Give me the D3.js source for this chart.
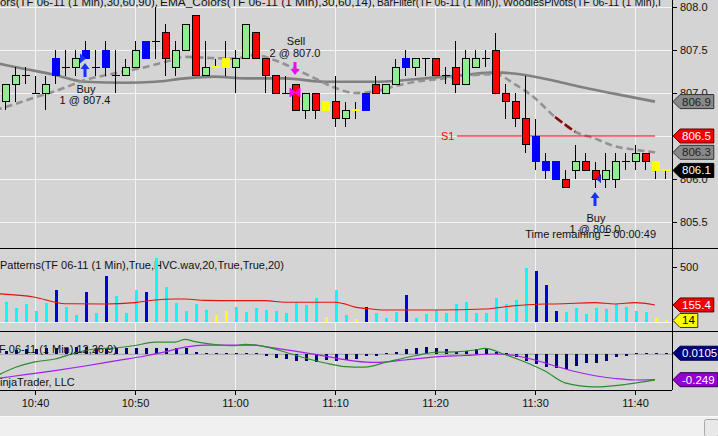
<!DOCTYPE html>
<html><head><meta charset="utf-8">
<script src="https://cdn.jsdelivr.net/npm/d3@7"></script>
<style>
body{margin:0;background:#f0f0f0;}
svg{display:block;font-family:"Liberation Sans",Arial,sans-serif;font-size:11px;}
</style>
</head><body>
<svg id="c" width="718" height="436"></svg>
<script>
// ---------------- DATA ----------------
const barTimes = ["10:37","10:38","10:39","10:40","10:41","10:42","10:43","10:44","10:45","10:46",
"10:47","10:48","10:49","10:50","10:51","10:52","10:53","10:54","10:55","10:56",
"10:57","10:58","10:59","11:00","11:01","11:02","11:03","11:04","11:05","11:06",
"11:07","11:08","11:09","11:10","11:11","11:12","11:13","11:14","11:15","11:16",
"11:17","11:18","11:19","11:20","11:21","11:22","11:23","11:24","11:25","11:26",
"11:27","11:28","11:29","11:30","11:31","11:32","11:33","11:34","11:35","11:36",
"11:37","11:38","11:39","11:40","11:41","11:42","11:43"];
const opens  = [806.9,807.1,807.2,807.0,807.0,807.4,807.3,807.3,807.5,807.3,
807.5,807.2,807.2,807.3,807.6,807.6,807.7,807.3,807.5,807.9,
807.2,807.3,807.4,807.3,807.4,807.7,807.4,807.2,807.0,807.1,
806.8,807.0,806.9,806.9,806.7,806.8,807.0,807.1,807.0,807.1,
807.4,807.3,807.4,807.4,807.2,807.3,807.1,807.3,807.4,807.5,
807.0,806.9,806.7,806.5,806.2,806.2,806.0,806.1,806.2,806.1,
806.0,806.0,806.2,806.2,806.3,806.2,806.1];
const highs  = [807.1,807.3,807.3,807.2,807.2,807.5,807.5,807.5,807.6,807.5,
807.6,807.5,807.4,807.6,807.6,808.0,807.8,807.6,807.8,807.9,
807.6,807.4,807.6,807.5,807.8,807.7,807.4,807.2,807.2,807.1,
807.0,807.0,806.9,807.2,806.9,806.9,807.0,807.2,807.1,807.4,
807.5,807.4,807.4,807.4,807.3,807.6,807.5,807.5,807.5,807.7,
807.1,807.0,807.2,806.7,806.3,806.2,806.1,806.4,806.3,806.2,
806.3,806.3,806.3,806.4,806.3,806.2,806.1];
const lows   = [806.8,806.9,807.1,807.0,806.8,807.1,807.2,807.2,807.4,807.2,
807.2,807.0,807.2,807.3,807.4,807.4,807.2,807.2,807.5,807.2,
807.2,807.3,807.2,807.0,807.4,807.4,807.0,807.0,807.0,806.8,
806.7,806.7,806.8,806.6,806.6,806.7,806.8,807.0,807.0,807.1,
807.2,807.2,807.2,807.2,807.1,807.0,807.1,807.3,807.3,807.0,
806.7,806.6,806.3,806.1,806.0,806.0,805.9,806.0,806.1,805.9,
805.9,805.9,806.1,806.1,806.1,806.0,806.0];
const closes = [807.1,807.2,807.2,807.0,807.1,807.2,807.3,807.4,807.4,807.3,
807.3,807.2,807.3,807.5,807.4,807.6,807.4,807.5,807.8,807.2,
807.3,807.3,807.3,807.4,807.8,807.4,807.2,807.0,807.0,806.8,
807.0,806.8,806.8,806.7,806.8,806.8,806.8,807.0,807.1,807.3,
807.3,807.4,807.4,807.2,807.2,807.1,807.4,807.4,807.4,807.0,
806.9,806.7,806.4,806.2,806.1,806.0,805.9,806.2,806.1,806.0,
806.1,806.2,806.2,806.3,806.2,806.1,806.1];
// g = up, r = down, d = doji, b = BarFilter blue, y = BarFilter yellow
const barTypes = ["g","g","d","d","g","b","d","g","b","d",
"b","d","g","g","b","d","r","g","g","r",
"g","y","y","g","g","r","r","r","d","r",
"g","r","y","r","g","y","b","r","g","g",
"b","g","d","r","d","r","g","g","d","r",
"r","r","r","b","b","b","r","g","r","r",
"g","g","d","g","r","y","y"];
const volumes = [185,124,161,100,170,291,139,64,276,79,
418,236,79,291,276,579,315,176,103,164,
109,64,100,133,94,124,109,100,79,185,
155,221,48,291,64,27,139,85,33,94,
245,39,73,109,79,164,185,79,79,221,
164,200,494,467,336,100,94,130,73,130,
115,164,139,103,88,33,14];
const volAvgTimes  = ["10:36","10:40","10:42","10:43","10:47","10:50","10:52","10:54","10:55","10:57",
"11:00","11:03","11:05","11:10","11:11","11:12","11:13","11:15","11:20","11:25",
"11:27","11:29","11:31","11:32","11:36","11:38","11:40","11:42"];
const volAvgValues = [258,225,180,166,164,176,200,209,209,197,
194,194,180,179,164,135,124,109,109,118,
139,155,164,164,176,164,176,155];
const emaSlowTimes  = ["10:36","10:39","10:42","10:45","10:49","10:52","10:55","10:58","11:01","11:05",
"11:09","11:13","11:16","11:19","11:23","11:26","11:29","11:32","11:35","11:38","11:42"];
const emaSlowValues = [807.35,807.28,807.21,807.13,807.12,807.13,807.17,807.19,807.17,807.17,
807.13,807.13,807.14,807.17,807.21,807.24,807.21,807.14,807.06,806.99,806.90];
const emaFastTimes  = ["10:36","10:38","10:40","10:42","10:45","10:48","10:51","10:53","10:55","10:57",
"11:00","11:02","11:04","11:06","11:08","11:10","11:12","11:14","11:16","11:18",
"11:21","11:24","11:26","11:28","11:30","11:32","11:34","11:36","11:38","11:40","11:42"];
const emaFastValues = [806.80,806.87,806.95,807.02,807.15,807.23,807.30,807.36,807.42,807.41,
807.40,807.44,807.38,807.28,807.17,807.06,807.00,807.02,807.08,807.13,
807.17,807.21,807.22,807.10,806.94,806.72,806.55,806.47,806.38,806.34,806.31];
const emaFastFalling = ["11:32","11:34"];
const macdTimes  = ["10:36","10:38","10:40","10:42","10:44","10:46","10:48","10:50","10:52","10:54",
"10:55","10:56","10:58","11:00","11:01","11:03","11:05","11:07","11:09","11:11",
"11:13","11:15","11:18","11:20","11:22","11:24","11:25","11:27","11:29","11:31",
"11:33","11:36","11:39","11:41","11:42"];
const macdValues = [-0.22,-0.13,-0.075,-0.046,0.013,0.052,0.062,0.086,0.12,0.12,
0.147,0.124,0.096,0.084,0.098,0.076,0.023,-0.036,-0.085,-0.12,
-0.125,-0.08,-0.014,0.02,0.023,0.042,0.059,-0.002,-0.075,-0.164,
-0.28,-0.32,-0.296,-0.267,-0.252];
const signalTimes  = ["10:36","10:39","10:42","10:45","10:48","10:51","10:53","10:55","10:57","11:00",
"11:02","11:03","11:06","11:09","11:12","11:14","11:17","11:20","11:23","11:26",
"11:28","11:30","11:32","11:34","11:36","11:38","11:40","11:42"];
const signalValues = [-0.24,-0.2,-0.16,-0.115,-0.065,-0.017,0.023,0.07,0.09,0.09,
0.09,0.076,0.032,-0.017,-0.066,-0.08,-0.056,-0.026,-0.012,0.003,
-0.012,-0.056,-0.115,-0.169,-0.21,-0.237,-0.252,-0.249];
const histValues = [0.03,0.04,0.05,0.055,0.06,0.06,0.065,0.07,0.07,0.065,
0.06,0.06,0.06,0.065,0.065,0.065,0.06,0.06,0.06,0.02,
0.004,0.01,0.005,0.005,0.01,0.0,-0.02,-0.035,-0.05,-0.065,
-0.065,-0.072,-0.056,-0.062,-0.056,-0.049,-0.015,-0.012,0.0,0.025,
0.049,0.059,0.069,0.059,0.049,0.025,0.035,0.049,0.059,0.025,
0.008,-0.029,-0.066,-0.098,-0.122,-0.137,-0.144,-0.112,-0.088,-0.082,
-0.063,-0.029,-0.014,0.0,0.008,0.01,0.0105];
const priceTicks = [805.5,806.0,806.5,807.0,807.5,808.0];
const volTicks = [500];
const pivotS1 = 806.5;
const executions = [
  {time:"10:45", side:"Buy",  qty:1, price:807.4},
  {time:"11:06", side:"Sell", qty:2, price:807.0},
  {time:"11:36", side:"Buy",  qty:1, price:806.0}
];
const timeRemaining = "00:00:49";
const priceTitleParts = ["ors(TF 06-11 (1 Min),30,60,90), ", "EMA_Colors(TF 06-11 (1 Min),30,60,14), ", "BarFilter(TF 06-11 (1 Min)), ", "WoodiesPivots(TF 06-11 (1 Min),I"];
const volTitle = "Patterns(TF 06-11 (1 Min),True,HVC.wav,20,True,True,20)";
const macdTitle = "F 06-11 (1 Min),12,26,9)";
const copyright = "injaTrader, LLC";

// ---------------- SETUP ----------------
const T = s => d3.timeParse("%H:%M:%S")(s.length === 5 ? s + ":00" : s);
const W = 718, H = 436, PR = 672;
const P = {top:0, pBot:248, vBot:331, mBot:390};
const svg = d3.select("#c");
const x = d3.scaleTime().domain([T("10:36:30"), T("11:43:42")]).range([0, PR]);
const yP = d3.scaleLinear().domain([805.5, 808.0]).range([222, 7]);
const yV = d3.scaleLinear().domain([0, 500]).range([322, 267]);
const yM = d3.scaleLinear().domain([-0.25, 0.05]).range([379.8, 349.2]);
const BG = "#d4d4d4";

svg.append("rect").attr("width", W).attr("height", H).attr("fill", "#f0f0f0");
svg.append("rect").attr("width", W).attr("height", 417).attr("fill", BG);

const defs = svg.append("defs");
[["cp",0,P.pBot],["cv",P.pBot,P.vBot],["cm",P.vBot,P.mBot]].forEach(([id,a,b]) =>
  defs.append("clipPath").attr("id", id).append("rect").attr("x",0).attr("y",a).attr("width",PR).attr("height",b-a));

// grid
const xTicks = x.ticks(d3.timeMinute.every(10));
const grid = svg.append("g").attr("stroke", "#f4f4f4").attr("stroke-width", 1).attr("shape-rendering","crispEdges");
xTicks.forEach(t => grid.append("line").attr("x1", x(t)+0.5).attr("x2", x(t)+0.5).attr("y1", 0).attr("y2", P.mBot));
priceTicks.forEach(v => grid.append("line").attr("x1", 0).attr("x2", PR).attr("y1", Math.round(yP(v))+0.5).attr("y2", Math.round(yP(v))+0.5));
grid.append("line").attr("x1",0).attr("x2",PR).attr("y1", yV(0)+0.5).attr("y2", yV(0)+0.5);

// ---------------- PRICE PANEL ----------------
const gp = svg.append("g").attr("clip-path", "url(#cp)");
const titleX = [0, 160, 377, 503], titleW = [158, 215, 124, 158];
priceTitleParts.forEach((s,i) => gp.append("text").attr("x", titleX[i]).attr("y", 6).attr("fill", "#111")
  .attr("textLength", titleW[i]).attr("lengthAdjust", "spacingAndGlyphs").text(s));

const line = (ys) => d3.line().x(d => x(T(d[0]))).y(d => ys(d[1])).curve(d3.curveMonotoneX);
const slowPts = emaSlowTimes.map((t,i) => [t, emaSlowValues[i]]);
const fastPts = emaFastTimes.map((t,i) => [t, emaFastValues[i]]);
gp.append("path").attr("d", line(yP)(slowPts)).attr("fill","none").attr("stroke","#808080").attr("stroke-width",2.6);
gp.append("path").attr("d", line(yP)(fastPts)).attr("fill","none").attr("stroke","#929292").attr("stroke-width",2.6).attr("stroke-dasharray","7,4");
const fallPts = fastPts.filter(p => T(p[0]) >= T(emaFastFalling[0]) && T(p[0]) <= T(emaFastFalling[1]));
gp.append("path").attr("d", line(yP)(fallPts)).attr("fill","none").attr("stroke","#8b0000").attr("stroke-width",2.4).attr("stroke-dasharray","9,3");

// S1 pivot
gp.append("line").attr("x1", 457).attr("x2", 655).attr("y1", yP(pivotS1)).attr("y2", yP(pivotS1)).attr("stroke", "#ff0000").attr("stroke-width", 1);
gp.append("text").attr("x", 441).attr("y", yP(pivotS1)+4).attr("fill", "#ff0000").text("S1");

// candles
const fills = {g:"#90ee90", r:"#ff0000", b:"#0000ff", y:"#ffff00", d:"#000"};
const strokes = {g:"#000", r:"#000", b:"#0000ff", y:"#ffff00", d:"#000"};
const cg = gp.append("g").attr("shape-rendering","crispEdges");
barTimes.forEach((t,i) => {
  const cx = Math.round(x(T(t)));
  cg.append("line").attr("x1", cx+0.5).attr("x2", cx+0.5).attr("y1", yP(highs[i])).attr("y2", yP(lows[i])).attr("stroke", "#000");
  const k = barTypes[i];
  const yo = yP(opens[i]), yc = yP(closes[i]);
  if (opens[i] === closes[i]) {
    cg.append("rect").attr("x", cx-3).attr("y", yo - (k==="d"?0.5:1)).attr("width", 8).attr("height", k==="d"?1:2).attr("fill", fills[k]);
  } else {
    cg.append("rect").attr("x", cx-3).attr("y", Math.min(yo,yc)).attr("width", 7).attr("height", Math.abs(yo-yc))
      .attr("fill", fills[k]).attr("stroke", strokes[k]).attr("stroke-width", 1);
  }
});

// executions
executions.forEach(e => {
  const i = barTimes.indexOf(e.time);
  const cx = x(T(e.time));
  const ye = yP(e.price);
  if (e.side === "Buy") {
    const col = "#1432ff";
    const yl = yP(lows[i]);
    const tip = yl + 4.5, tail = tip + 14;
    gp.append("path").attr("d", `M${cx},${tip}L${cx+4.5},${tip+6}L${cx+1.5},${tip+6}L${cx+1.5},${tail}L${cx-1.5},${tail}L${cx-1.5},${tip+6}L${cx-4.5},${tip+6}Z`).attr("fill", col);
    if (i < 20) gp.append("path").attr("d", `M${cx-5},${ye-5}L${cx+1},${ye}L${cx-5},${ye+5}Z`).attr("fill", col);
    else gp.append("path").attr("d", `M${cx+6},${ye-5}L${cx+1},${ye}L${cx+6},${ye+4}Z`).attr("fill", "#1a2dcc");
    gp.append("text").attr("x", cx+1).attr("y", yl+34).attr("text-anchor","middle").attr("fill","#111").text(e.side);
    gp.append("text").attr("x", cx).attr("y", yl+45.5).attr("text-anchor","middle").attr("fill","#111").text(`${e.qty} @ ${e.price.toFixed(1)}`);
  } else {
    const col = "#ff00ff";
    const yh = yP(highs[i]);
    const tip = yh - 9.5, tail = tip - 13;
    gp.append("path").attr("d", `M${cx},${tip}L${cx+4.5},${tip-6}L${cx+1.5},${tip-6}L${cx+1.5},${tail}L${cx-1.5},${tail}L${cx-1.5},${tip-6}L${cx-4.5},${tip-6}Z`).attr("fill", col);
    gp.append("path").attr("d", `M${cx-5},${ye-5}L${cx+5},${ye+4}L${cx+5},${ye-5}L${cx-5},${ye+4}Z`).attr("fill", col).attr("stroke", col);
    gp.append("text").attr("x", cx+1).attr("y", yh-39).attr("text-anchor","middle").attr("fill","#111").text(e.side);
    gp.append("text").attr("x", cx).attr("y", yh-27.5).attr("text-anchor","middle").attr("fill","#111").text(`${e.qty} @ ${e.price.toFixed(1)}`);
  }
});
gp.append("text").attr("x", 656).attr("y", 238).attr("text-anchor","end").attr("fill","#111").text("Time remaining = " + timeRemaining);

// ---------------- VOLUME PANEL ----------------
const gv = svg.append("g").attr("clip-path", "url(#cv)");
gv.append("text").attr("x", 0).attr("y", 269).attr("fill", "#111").text(volTitle);
const volCol = {b:"#0000dd", y:"#ffff00"};
gv.append("g").attr("shape-rendering","crispEdges").selectAll("rect").data(volumes).join("rect")
  .attr("x", (d,i) => Math.round(x(T(barTimes[i]))) - 0.5).attr("width", 3)
  .attr("y", d => yV(d)).attr("height", d => yV(0) - yV(d))
  .attr("fill", (d,i) => volCol[barTypes[i]] || "#00ffff");
const avgPts = volAvgTimes.map((t,i) => [t, volAvgValues[i]]);
gv.append("path").attr("d", line(yV)(avgPts)).attr("fill","none").attr("stroke","#e41010").attr("stroke-width",1.1);

// ---------------- MACD PANEL ----------------
const gm = svg.append("g").attr("clip-path", "url(#cm)");
gm.append("line").attr("x1",0).attr("x2",PR).attr("y1", yM(0)).attr("y2", yM(0)).attr("stroke","#a0a0a0");
gm.append("g").attr("shape-rendering","crispEdges").selectAll("rect").data(histValues).join("rect")
  .attr("x", (d,i) => Math.round(x(T(barTimes[i]))) - 0.5).attr("width", 3)
  .attr("y", d => Math.min(yM(d), yM(0) - (d >= 0 ? 1.5 : 0)))
  .attr("height", d => Math.max(Math.abs(yM(d) - yM(0)), 1.5))
  .attr("fill", "#000080");
const macdPts = macdTimes.map((t,i) => [t, macdValues[i]]);
const sigPts = signalTimes.map((t,i) => [t, signalValues[i]]);
gm.append("path").attr("d", line(yM)(sigPts)).attr("fill","none").attr("stroke","#a020f0").attr("stroke-width",1.2);
gm.append("path").attr("d", line(yM)(macdPts)).attr("fill","none").attr("stroke","#2e8b2e").attr("stroke-width",1.2);
gm.append("text").attr("x", -1).attr("y", 353).attr("fill", "#111").text(macdTitle);
gm.append("text").attr("x", 0).attr("y", 386).attr("fill", "#111").text(copyright);

// ---------------- FRAMES & AXES ----------------
const fr = svg.append("g").attr("stroke","#000").attr("shape-rendering","crispEdges");
fr.append("line").attr("x1",0).attr("x2",W).attr("y1",P.pBot+0.5).attr("y2",P.pBot+0.5);
fr.append("line").attr("x1",0).attr("x2",W).attr("y1",P.vBot+0.5).attr("y2",P.vBot+0.5);
fr.append("line").attr("x1",0).attr("x2",PR).attr("y1",P.mBot+0.5).attr("y2",P.mBot+0.5);
fr.append("line").attr("x1",PR+0.5).attr("x2",PR+0.5).attr("y1",0).attr("y2",P.mBot);

const ax = (sel) => { sel.select(".domain").remove(); sel.selectAll("text").attr("fill","#111").style("font-size","11px").style("font-family","'Liberation Sans',Arial,sans-serif"); sel.selectAll("line").attr("stroke","#000"); };
svg.append("g").attr("transform", `translate(${PR},0)`).call(d3.axisRight(yP).tickValues(priceTicks).tickFormat(d3.format(".1f")).tickSize(5).tickPadding(3)).call(ax);
svg.append("g").attr("transform", `translate(${PR},0)`).call(d3.axisRight(yV).tickValues(volTicks).tickSize(5).tickPadding(3)).call(ax);
svg.append("g").attr("transform", `translate(0,${P.mBot})`).call(d3.axisBottom(x).ticks(d3.timeMinute.every(10)).tickFormat(d3.timeFormat("%H:%M")).tickSize(5).tickPadding(4)).call(ax);

// value tags
function tag(yc, label, fill, color, stroke) {
  const g = svg.append("g");
  const p = g.append("path");
  const t = g.append("text").attr("x", 682).attr("y", yc + 4).attr("fill", color).style("font-size","11.5px").text(label);
  const w = t.node().getComputedTextLength();
  const h = 7, x2 = 682 + w + 3;
  p.attr("d", `M${PR+1},${yc}L${PR+8},${yc-h}L${x2},${yc-h}L${x2},${yc+h}L${PR+8},${yc+h}Z`)
   .attr("fill", fill).attr("stroke", stroke).attr("stroke-width", 1);
}
tag(yP(emaSlowValues[emaSlowValues.length-1]), d3.format(".1f")(emaSlowValues[emaSlowValues.length-1]), "#8a8a8a", "#222", "#333");
tag(yP(pivotS1), d3.format(".1f")(pivotS1), "#f00000", "#fff", "#600");
tag(yP(emaFastValues[emaFastValues.length-1]), d3.format(".1f")(emaFastValues[emaFastValues.length-1]), "#8a8a8a", "#222", "#333");
tag(yP(closes[closes.length-1]), d3.format(".1f")(closes[closes.length-1]), "#000", "#fff", "#000");
tag(yV(volAvgValues[volAvgValues.length-1]), d3.format(".1f")(volAvgValues[volAvgValues.length-1] + 0.4), "#f00000", "#fff", "#600");
tag(yV(volumes[volumes.length-1]), String(volumes[volumes.length-1]), "#ffff00", "#000", "#333");
tag(yM(histValues[histValues.length-1]), String(histValues[histValues.length-1]), "#000080", "#fff", "#000040");
tag(yM(signalValues[signalValues.length-1]), String(signalValues[signalValues.length-1]), "#9400d3", "#fff", "#300050");

// scrollbar strip
svg.append("line").attr("x1",0).attr("x2",W).attr("y1",416.5).attr("y2",416.5).attr("stroke","#fafafa");
svg.append("rect").attr("x",704.5).attr("y",419.5).attr("width",14).attr("height",17).attr("rx",2).attr("fill","#e8e8e8").attr("stroke","#a8a8a8");
</script>
</body></html>
